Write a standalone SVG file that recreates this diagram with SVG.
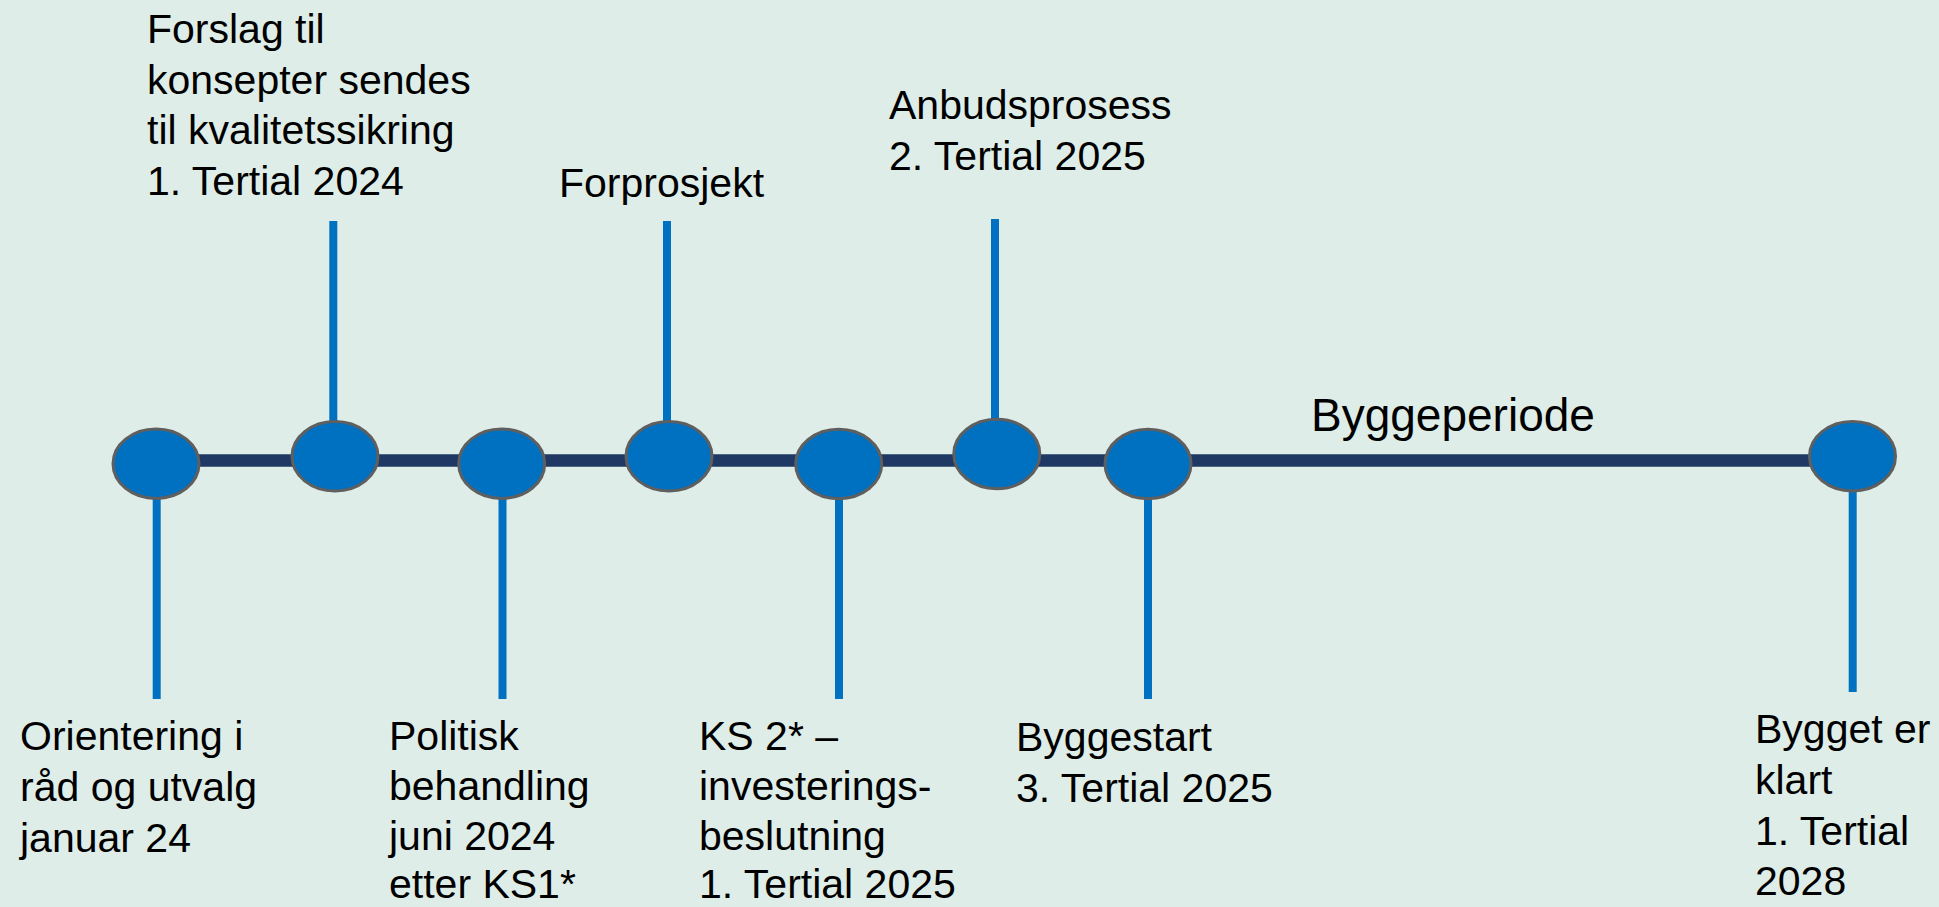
<svg xmlns="http://www.w3.org/2000/svg" width="1939" height="907" viewBox="0 0 1939 907">
<style>
.bg{fill:#deede7}
.node{fill:#0070c0;stroke:#5f5f5f;stroke-width:3}
.main{stroke:#1f3864;stroke-width:12.5;fill:none}
.stem{stroke:#0070c0;stroke-width:8;fill:none}
text{font-family:"Liberation Sans",Arial,sans-serif;font-size:41px;fill:#000}
.big{font-size:46px}
</style>
<rect class="bg" x="0" y="0" width="1939" height="907"/>
<g id="connectors">
<line class="main" x1="156" y1="460.5" x2="1852" y2="460.5"/>
<line class="stem" x1="156.7" y1="495" x2="156.7" y2="699"/>
<line class="stem" x1="333.3" y1="221" x2="333.3" y2="425"/>
<line class="stem" x1="502.5" y1="495" x2="502.5" y2="699"/>
<line class="stem" x1="667" y1="221" x2="667" y2="425"/>
<line class="stem" x1="839" y1="495" x2="839" y2="699"/>
<line class="stem" x1="995" y1="219" x2="995" y2="423"/>
<line class="stem" x1="1148" y1="495" x2="1148" y2="699"/>
<line class="stem" x1="1852.7" y1="488" x2="1852.7" y2="692"/>
</g>
<g id="n1"><ellipse class="node" cx="156" cy="463.7" rx="43" ry="34.7"/>
<text x="20" y="750">Orientering i</text><text x="20" y="801">råd og utvalg</text><text x="20" y="852">januar 24</text></g>
<g id="n2"><ellipse class="node" cx="335" cy="456.3" rx="43" ry="34.7"/>
<text x="147" y="43">Forslag til</text><text x="147" y="94">konsepter sendes</text><text x="147" y="144">til kvalitetssikring</text><text x="147" y="195">1. Tertial 2024</text></g>
<g id="n3"><ellipse class="node" cx="501.7" cy="463.7" rx="43" ry="34.7"/>
<text x="389" y="750">Politisk</text><text x="389" y="800">behandling</text><text x="389" y="850">juni 2024</text><text x="389" y="898">etter KS1*</text></g>
<g id="n4"><ellipse class="node" cx="669" cy="456.3" rx="43" ry="34.7"/>
<text x="559" y="197">Forprosjekt</text></g>
<g id="n5"><ellipse class="node" cx="838.7" cy="464" rx="43" ry="34.7"/>
<text x="699" y="750">KS 2* –</text><text x="699" y="800">investerings-</text><text x="699" y="850">beslutning</text><text x="699" y="898">1. Tertial 2025</text></g>
<g id="n6"><ellipse class="node" cx="996.8" cy="454" rx="43" ry="34.7"/>
<text x="889" y="119">Anbudsprosess</text><text x="889" y="170">2. Tertial 2025</text></g>
<g id="n7"><ellipse class="node" cx="1148" cy="464" rx="43" ry="34.7"/>
<text x="1016" y="751">Byggestart</text><text x="1016" y="802">3. Tertial 2025</text></g>
<g id="n8"><ellipse class="node" cx="1852.5" cy="456.2" rx="43" ry="34.7"/>
<text x="1755" y="743">Bygget er</text><text x="1755" y="794">klart</text><text x="1755" y="845">1. Tertial</text><text x="1755" y="895">2028</text></g>
<g id="label-bygg"><text class="big" x="1311" y="431">Byggeperiode</text></g>
</svg>
